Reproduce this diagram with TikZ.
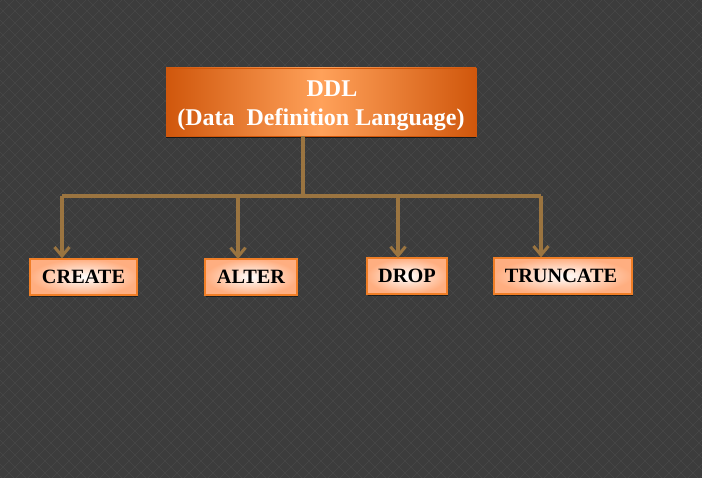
\documentclass[tikz,border=0pt]{standalone}
\usepackage{fontspec}
\setmainfont{Liberation Serif}
\usetikzlibrary{arrows.meta,shadows}
\definecolor{bgc}{HTML}{3C3C3C}
\definecolor{patc}{HTML}{474747}
\definecolor{linec}{HTML}{9A7440}
\definecolor{topedge}{HTML}{D0570C}
\definecolor{topmid}{HTML}{FFA15A}
\definecolor{leafedge}{HTML}{FFAE80}
\definecolor{leafborder}{HTML}{F07E26}
\tikzset{
  topbox/.style={draw=topedge, line width=0.6pt, left color=topedge, right color=topedge, middle color=topmid,
    drop shadow={shadow xshift=0pt, shadow yshift=-2pt, opacity=0.6, fill=black},
    minimum width=310pt, minimum height=68pt, inner sep=0pt},
  toptext/.style={font=\fontsize{24}{29}\selectfont\bfseries, text=white, align=center, inner sep=0pt},
  leaf/.style={draw=leafborder, line width=1.2pt, inner color=white, outer color=leafedge,
    drop shadow={shadow xshift=1pt, shadow yshift=-2pt, opacity=0.5, fill=black},
    minimum height=36pt, inner sep=0pt,
    font=\fontsize{20.3}{22}\selectfont\bfseries, text=black},
  conn/.style={draw=linec, line width=3.2pt},
  arr/.style={conn, -{Straight Barb[length=9pt, width=15pt, line width=3pt]}}
}
\begin{document}
\begin{tikzpicture}[x=1pt,y=-1pt]
\fill[bgc] (0,0) rectangle (702,478);
\begin{scope}
\clip (0,0) rectangle (702,478);
\foreach \i in {-500,-488,...,720} {
  \draw[patc, line width=0.6pt] (\i,0) -- ++(478,478);
  \draw[patc, line width=0.6pt] (\i,478) -- ++(478,-478);
}
\end{scope}
\useasboundingbox (0,0) rectangle (702,478);
\node[topbox] (ddl) at (321,102) {};
\node[toptext] (ddltext) at (321,106) {\hspace*{22pt}DDL\\(Data\ \ Definition Language)};
\node[leaf, minimum width=107pt] (create) at (83.5,277) {\raisebox{-2pt}{CREATE}};
\node[leaf, minimum width=92pt] (alter) at (251,277) {\raisebox{-2pt}{ALTER}};
\node[leaf, minimum width=80pt] (drop) at (407,276) {\raisebox{-2pt}{DROP}};
\node[leaf, minimum width=138pt] (trunc) at (563,276) {\hspace*{-4pt}\raisebox{-2pt}{TRUNCATE}};
\coordinate (j) at (303,196);
\coordinate (l) at (62,196);
\coordinate (r) at (541,196);
\draw[conn] (ddl.south -| j) -- (j);
\draw[conn] (l) -- (r);
\draw[arr] (l) -- (l |- create.north);
\draw[arr] (238,196) -- (238,259);
\draw[arr] (398,196) -- (398,258);
\draw[arr] (r) -- (r |- trunc.north);
\end{tikzpicture}
\end{document}
